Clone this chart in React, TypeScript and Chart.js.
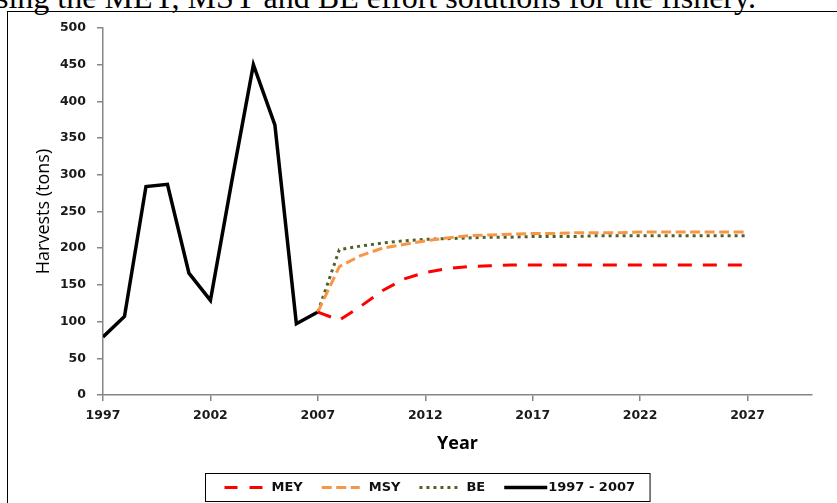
import React, { useEffect, useRef } from "react";
import { Chart, registerables } from "chart.js";

Chart.register(...registerables);

const histYears = [1997, 1998, 1999, 2000, 2001, 2002, 2003, 2004, 2005, 2006, 2007];
const histHarvest = [79, 107, 284, 287, 166, 129, 292, 450, 368, 97, 113];

const projYears = [2007, 2008, 2009, 2010, 2011, 2012, 2013, 2014, 2015, 2016, 2017, 2018, 2019, 2020, 2021, 2022, 2023, 2024, 2025, 2026, 2027];
const meyHarvest = [113, 102, 121, 142, 158, 167, 172, 175, 176, 177, 177, 177, 177, 177, 177, 177, 177, 177, 177, 177, 177];
const msyHarvest = [113, 175, 190, 200, 205, 210, 214, 217, 218, 219, 220, 220, 221, 221, 221, 222, 222, 222, 222, 222, 222];
const beHarvest = [113, 198, 203, 207, 210, 212, 213, 214, 215, 215, 216, 216, 216, 217, 217, 217, 217, 217, 217, 217, 217];

const xTickValues = [1997, 2002, 2007, 2012, 2017, 2022, 2027];
const seriesLabels = ["MEY", "MSY", "BE", "1997 - 2007"];
const captionText = "sing the MEY, MSY and BE effort solutions for the fishery.";

const FONT = '"DejaVu Sans", "Open Sans", sans-serif';
const TITLE_FONT = '"Open Sans", "DejaVu Sans", sans-serif';

const toPoints = (xs: number[], ys: number[]) => xs.map((x, i) => ({ x, y: ys[i] }));

const boxLegend = {
  id: "boxLegend",
  afterDraw(chart: any) {
    const ctx = chart.ctx as CanvasRenderingContext2D;
    ctx.save();
    ctx.font = `bold 13px ${FONT}`;
    const n = chart.data.datasets.length;
    const items = chart.data.datasets.map((ds: any, i: number) => ({
      label: ds.label as string,
      color: ds.borderColor as string,
      dash: (ds.legendDash || ds.borderDash || []) as number[],
      width: ds.borderWidth as number,
      sample: i === n - 1 ? 43 : 38,
      gapAfterSample: i === n - 1 ? 1 : 9,
      tw: ctx.measureText(ds.label).width,
    }));
    const itemGap = 19;
    const padL = 19;
    const padR = 15;
    let total = padL + padR;
    items.forEach((it: any, i: number) => {
      total += it.sample + it.gapAfterSample + it.tw + (i < n - 1 ? itemGap : 0);
    });
    const centerX = 419;
    const left = Math.round(centerX - total / 2) + 0.5;
    const top = 459.5;
    const h = 28;
    ctx.strokeStyle = "#000";
    ctx.lineWidth = 1;
    ctx.setLineDash([]);
    ctx.strokeRect(left, top, total, h);
    let x = left + padL;
    const cy = top + h / 2;
    items.forEach((it: any) => {
      ctx.beginPath();
      ctx.setLineDash(it.dash);
      ctx.lineCap = "butt";
      ctx.strokeStyle = it.color;
      ctx.lineWidth = it.width;
      ctx.moveTo(x, cy);
      ctx.lineTo(x + it.sample, cy);
      ctx.stroke();
      x += it.sample + it.gapAfterSample;
      ctx.setLineDash([]);
      ctx.fillStyle = "#111";
      ctx.textBaseline = "middle";
      ctx.textAlign = "left";
      ctx.fillText(it.label, x, cy + 0.5);
      x += it.tw + itemGap;
    });
    ctx.restore();
  },
};

export default function App() {
  const ref = useRef<HTMLCanvasElement | null>(null);

  useEffect(() => {
    if (!ref.current) return;
    const chart = new Chart(ref.current, {
      type: "line",
      data: {
        datasets: [
          {
            label: seriesLabels[0],
            data: toPoints(projYears, meyHarvest),
            borderColor: "#FF0000",
            borderWidth: 3,
            borderDash: [14, 11],
            legendDash: [13, 12],
            pointRadius: 0,
            tension: 0,
            fill: false,
          } as any,
          {
            label: seriesLabels[1],
            data: toPoints(projYears, msyHarvest),
            borderColor: "#F79646",
            borderWidth: 3,
            borderDash: [10, 4.5],
            pointRadius: 0,
            tension: 0,
            fill: false,
          },
          {
            label: seriesLabels[2],
            data: toPoints(projYears, beHarvest),
            borderColor: "#4F6228",
            borderWidth: 3,
            borderDash: [3, 4],
            pointRadius: 0,
            tension: 0,
            fill: false,
          },
          {
            label: seriesLabels[3],
            data: toPoints(histYears, histHarvest),
            borderColor: "#000000",
            borderWidth: 3.5,
            pointRadius: 0,
            tension: 0,
            fill: false,
          },
        ],
      },
      options: {
        animation: false,
        responsive: false,
        maintainAspectRatio: false,
        layout: { padding: { top: 14, right: 25, bottom: 38, left: 0 } },
        plugins: {
          legend: { display: false },
          tooltip: { enabled: false },
        },
        scales: {
          x: {
            type: "linear",
            min: 1997,
            max: 2030,
            afterBuildTicks: (scale: any) => {
              scale.ticks = xTickValues.map((v) => ({ value: v }));
            },
            afterFit: (scale: any) => {
              scale.height = 70;
            },
            border: { display: true, color: "#868686", width: 1.5 },
            grid: { display: true, drawOnChartArea: false, drawTicks: true, tickLength: 6, color: "#868686", lineWidth: 1.5 },
            ticks: {
              color: "#1a1a1a",
              font: { family: FONT, size: 12.5, weight: "bold" },
              padding: 7,
              maxRotation: 0,
              callback: (v: any) => String(v),
            },
            title: {
              display: true,
              text: "Year",
              color: "#000",
              font: { family: TITLE_FONT, size: 18, weight: "bold" },
              padding: { top: 0, bottom: 10 },
            },
          },
          y: {
            min: 0,
            max: 500,
            afterFit: (scale: any) => {
              scale.width = 95;
              scale.paddingTop = 8;
              scale.paddingBottom = 8;
            },
            border: { display: true, color: "#868686", width: 1.5 },
            grid: { display: true, drawOnChartArea: false, drawTicks: true, tickLength: 6, color: "#868686", lineWidth: 1.5 },
            ticks: {
              stepSize: 50,
              color: "#1a1a1a",
              font: { family: FONT, size: 12.5, weight: "bold" },
              padding: 11,
            },
            title: {
              display: true,
              text: "Harvests (tons)",
              color: "#000",
              font: { family: TITLE_FONT, size: 18 },
              padding: { top: 25, bottom: 0 },
            },
          },
        },
      },
      plugins: [boxLegend],
    });
    return () => chart.destroy();
  }, []);

  return (
    <div style={{ position: "absolute", left: 0, top: 0, width: 837, height: 503, overflow: "hidden", background: "#fff" }}>
      <div
        style={{
          position: "absolute",
          left: -4,
          top: -21,
          fontFamily: '"Liberation Serif", "Times New Roman", serif',
          fontSize: 32,
          lineHeight: "36px",
          whiteSpace: "nowrap",
          color: "#000",
        }}
      >
        {captionText}
      </div>
      <div
        style={{
          position: "absolute",
          left: 7,
          top: 11,
          width: 900,
          height: 600,
          border: "1.5px solid #000",
          boxSizing: "border-box",
        }}
      />
      <canvas ref={ref} width={829} height={489} style={{ position: "absolute", left: 8, top: 14, width: 829, height: 489 }} />
    </div>
  );
}
